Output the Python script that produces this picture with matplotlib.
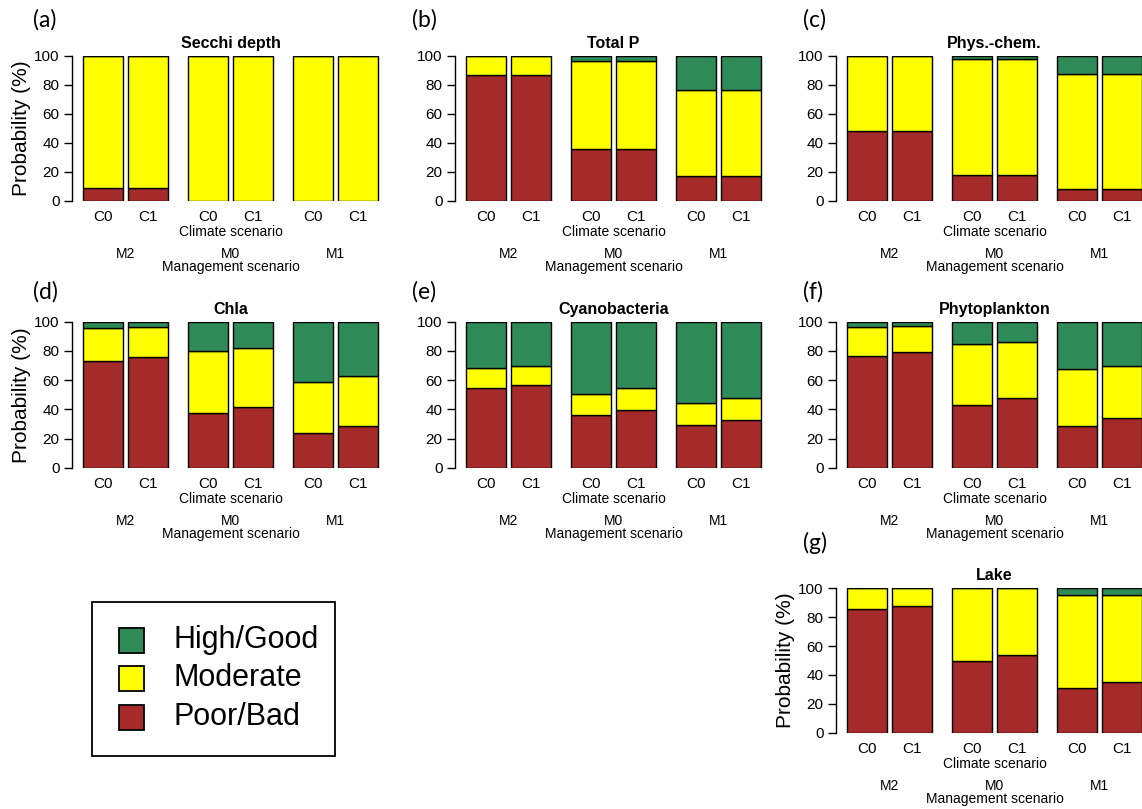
import matplotlib
matplotlib.use("Agg")
import matplotlib.pyplot as plt
from matplotlib.patches import Rectangle
from matplotlib.transforms import offset_copy

plt.rcParams["font.family"] = ["Liberation Sans", "DejaVu Sans"]

# ---- data -------------------------------------------------------------
management = ["M2", "M0", "M1"]
climate = ["C0", "C1"]
classes = ["High/Good", "Moderate", "Poor/Bad"]
colors = {"High/Good": "#2E8B57", "Moderate": "#FFFF00", "Poor/Bad": "#A52A2A"}

# bar order: M2-C0, M2-C1, M0-C0, M0-C1, M1-C0, M1-C1
secchi_poor = [9.0, 9.0, 0.0, 0.0, 0.0, 0.0]
secchi_mod = [91.0, 91.0, 100.0, 100.0, 100.0, 100.0]
secchi_high = [0.0, 0.0, 0.0, 0.0, 0.0, 0.0]

totp_poor = [86.7, 86.7, 36.0, 36.0, 17.0, 17.0]
totp_mod = [12.8, 12.8, 60.0, 60.0, 59.0, 59.0]
totp_high = [0.5, 0.5, 4.0, 4.0, 24.0, 24.0]

phys_poor = [48.0, 48.0, 18.2, 18.2, 8.4, 8.4]
phys_mod = [51.5, 51.5, 79.5, 79.5, 79.1, 79.1]
phys_high = [0.5, 0.5, 2.3, 2.3, 12.5, 12.5]

chla_poor = [73.3, 75.8, 37.2, 41.3, 24.0, 28.5]
chla_mod = [22.1, 20.8, 42.9, 40.4, 34.4, 34.1]
chla_high = [4.6, 3.4, 19.9, 18.3, 41.6, 37.4]

cyano_poor = [54.3, 56.6, 36.1, 39.5, 29.2, 32.4]
cyano_mod = [13.7, 13.0, 14.4, 14.8, 15.3, 15.1]
cyano_high = [32.0, 30.4, 49.5, 45.7, 55.5, 52.5]

phyto_poor = [76.7, 79.2, 42.9, 47.5, 28.5, 33.8]
phyto_mod = [19.4, 18.1, 41.6, 38.8, 38.9, 35.8]
phyto_high = [3.9, 2.7, 15.5, 13.7, 32.6, 30.4]

lake_poor = [85.9, 87.8, 49.4, 53.8, 30.7, 35.3]
lake_mod = [14.1, 12.2, 50.6, 46.2, 64.7, 60.1]
lake_high = [0.0, 0.0, 0.0, 0.0, 4.6, 4.6]

yticks = [0, 20, 40, 60, 80, 100]

# ---- layout (pixel based) ---------------------------------------------
W, H = 1142, 809
fig = plt.figure(figsize=(W / 100, H / 100), dpi=100)

BAR_W = 1.0
GAP_IN = 0.125   # gap between C0 and C1 within a management group
GAP_OUT = 0.5    # gap between management groups
PX_PER_UNIT = 40.0
X_LEFT = -0.275
X_RIGHT = 7.6

lefts = []
x = 0.0
for g in range(len(management)):
    for c in range(len(climate)):
        lefts.append(x)
        x += BAR_W + (GAP_IN if c < len(climate) - 1 else GAP_OUT)
centers = [l + BAR_W / 2 for l in lefts]
group_centers = [(lefts[2 * g] + lefts[2 * g + 1] + BAR_W) / 2 for g in range(len(management))]
span_center = (lefts[0] + lefts[-1] + BAR_W) / 2


def make_axes(spine_x, top_y, bottom_y):
    width = (X_RIGHT - X_LEFT) * PX_PER_UNIT
    return fig.add_axes([spine_x / W, 1 - bottom_y / H, width / W, (bottom_y - top_y) / H])


def below(ax, dy):
    return offset_copy(ax.get_xaxis_transform(), fig=fig, y=dy, units="dots")


def draw_panel(ax, title, poor, mod, high, ylabel=False):
    for i, l in enumerate(lefts):
        bottom = 0.0
        for val, cls in ((poor[i], "Poor/Bad"), (mod[i], "Moderate"), (high[i], "High/Good")):
            ax.bar(l, val, width=BAR_W, bottom=bottom, align="edge",
                   color=colors[cls], edgecolor="black", linewidth=1.0, zorder=2)
            bottom += val
    ax.set_xlim(X_LEFT, X_RIGHT)
    ax.set_ylim(0, 100)
    for s in ("top", "right", "bottom"):
        ax.spines[s].set_visible(False)
    ax.spines["left"].set_linewidth(1.0)
    ax.set_yticks(yticks)
    ax.tick_params(axis="y", length=6, width=1.0, pad=3, labelsize=11, colors="black")
    ax.set_xticks([])
    ax.text(span_center, 1.0, title, transform=below(ax, 8), ha="center",
            va="baseline", fontsize=11.5, fontweight="bold")
    for cx, lab in zip(centers, climate * len(management)):
        ax.text(cx, 0, lab, transform=below(ax, -16), ha="center", va="center", fontsize=11)
    ax.text(span_center, 0, "Climate scenario", transform=below(ax, -31),
            ha="center", va="center", fontsize=10)
    for gx, lab in zip(group_centers, management):
        ax.text(gx, 0, lab, transform=below(ax, -53), ha="center", va="center", fontsize=10)
    ax.text(span_center, 0, "Management scenario", transform=below(ax, -66),
            ha="center", va="center", fontsize=10)
    if ylabel:
        ax.set_ylabel("Probability (%)", fontsize=15, labelpad=2)


COLS = [72, 455, 836]
ROWS = [(55.6, 201.0), (321.7, 467.7)]

panels = [
    ("(a)", "Secchi depth", secchi_poor, secchi_mod, secchi_high, 0, 0),
    ("(b)", "Total P", totp_poor, totp_mod, totp_high, 0, 1),
    ("(c)", "Phys.-chem.", phys_poor, phys_mod, phys_high, 0, 2),
    ("(d)", "Chla", chla_poor, chla_mod, chla_high, 1, 0),
    ("(e)", "Cyanobacteria", cyano_poor, cyano_mod, cyano_high, 1, 1),
    ("(f)", "Phytoplankton", phyto_poor, phyto_mod, phyto_high, 1, 2),
]

label_x = [33, 412, 803]
label_y = [20, 292]

for tag, title, p, m, h, r, c in panels:
    top, bot = ROWS[r]
    ax = make_axes(COLS[c], top, bot)
    draw_panel(ax, title, p, m, h, ylabel=(c == 0))
    fig.text(label_x[c] / W, 1 - label_y[r] / H, tag, ha="left", va="center",
             fontsize=16.5, family=["Lato", "DejaVu Sans"])

# Lake panel
ax_g = make_axes(836, 588.3, 732.7)
draw_panel(ax_g, "Lake", lake_poor, lake_mod, lake_high, ylabel=True)
fig.text(803 / W, 1 - 543 / H, "(g)", ha="left", va="center",
         fontsize=16.5, family=["Lato", "DejaVu Sans"])

# legend box
lx0, ly0, lx1, ly1 = 92, 602, 335, 756
fig.patches.append(Rectangle((lx0 / W, 1 - ly1 / H), (lx1 - lx0) / W, (ly1 - ly0) / H,
                             transform=fig.transFigure, facecolor="white",
                             edgecolor="black", linewidth=1.3))
for cls, cy in zip(classes, [640, 678, 717]):
    size = 25
    fig.patches.append(Rectangle(((131.5 - size / 2) / W, 1 - (cy + size / 2) / H),
                                 size / W, size / H, transform=fig.transFigure,
                                 facecolor=colors[cls], edgecolor="black", linewidth=1.3))
    fig.text(173 / W, 1 - cy / H, cls, ha="left", va="center", fontsize=22)

fig.savefig("out.png", dpi=100)
